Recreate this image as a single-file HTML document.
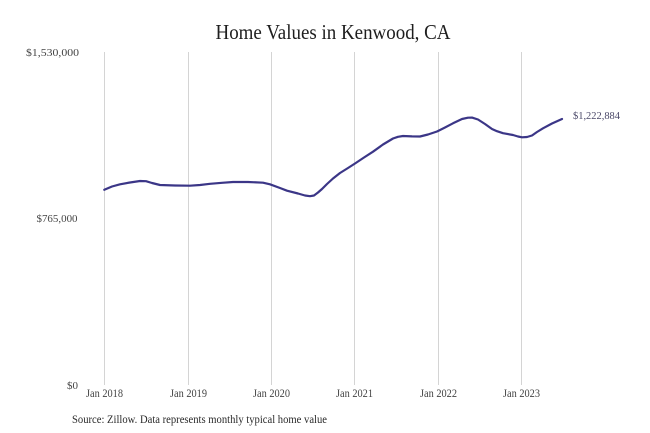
<!DOCTYPE html>
<html>
<head>
<meta charset="utf-8">
<style>
  html, body { margin: 0; padding: 0; background: #ffffff; }
  svg { display: block; }
  text { font-family: "Liberation Serif", "DejaVu Serif", serif; }
</style>
</head>
<body>
<svg width="650" height="433" viewBox="0 0 650 433" xmlns="http://www.w3.org/2000/svg">
  <rect x="0" y="0" width="650" height="433" fill="#ffffff"/>

  <!-- Title -->
  <text x="333" y="39" font-size="21" fill="#1e1e1e" text-anchor="middle" textLength="235" lengthAdjust="spacingAndGlyphs">Home Values in Kenwood, CA</text>

  <!-- Gridlines -->
  <g stroke="#d4d4d4" stroke-width="1">
    <line x1="104.5" y1="52" x2="104.5" y2="385"/>
    <line x1="188.5" y1="52" x2="188.5" y2="385"/>
    <line x1="271.5" y1="52" x2="271.5" y2="385"/>
    <line x1="354.5" y1="52" x2="354.5" y2="385"/>
    <line x1="438.5" y1="52" x2="438.5" y2="385"/>
    <line x1="521.5" y1="52" x2="521.5" y2="385"/>
  </g>

  <!-- Y axis labels -->
  <g font-size="11" fill="#444" text-anchor="end">
    <text x="79" y="56" textLength="53" lengthAdjust="spacingAndGlyphs">$1,530,000</text>
    <text x="77.5" y="222" textLength="41" lengthAdjust="spacingAndGlyphs">$765,000</text>
    <text x="78" y="389">$0</text>
  </g>

  <!-- X axis labels -->
  <g font-size="11.5" fill="#444" text-anchor="middle">
    <text x="104.5" y="397" textLength="37" lengthAdjust="spacingAndGlyphs">Jan 2018</text>
    <text x="188.5" y="397" textLength="37" lengthAdjust="spacingAndGlyphs">Jan 2019</text>
    <text x="271.5" y="397" textLength="37" lengthAdjust="spacingAndGlyphs">Jan 2020</text>
    <text x="354.5" y="397" textLength="37" lengthAdjust="spacingAndGlyphs">Jan 2021</text>
    <text x="438.5" y="397" textLength="37" lengthAdjust="spacingAndGlyphs">Jan 2022</text>
    <text x="521.5" y="397" textLength="37" lengthAdjust="spacingAndGlyphs">Jan 2023</text>
  </g>

  <!-- Series line -->
  <polyline fill="none" stroke="#3b3687" stroke-width="2.2" stroke-linejoin="round" stroke-linecap="round"
    points="104.3,189.8 112,186.5 120,184.3 130,182.5 140,181 146,181.2 152,183 160,185 175,185.5 190,185.7 200,185 210,183.8 222,182.8 233,182 248,182 263,182.7 270,184.3 280,188 287,190.7 298,193.5 305,195.5 310,196.2 314,195.5 318,192.5 322,189 327,184 333,178.5 340,173 348,168 355,163.5 364,157.5 373,151.7 383,144.5 393,138.5 398,136.8 403,136 412,136.4 420,136.5 428,134.5 437,131.5 445,127.5 453,123.3 462,119 468,117.7 472,117.6 478,119.5 485,124 492,129 497,131.2 503,133.2 513,135 518,136.5 522,137.3 527,137 532,135.5 537,132 543,128.3 552,123.5 562,119"/>

  <!-- End label -->
  <text x="573" y="119" font-size="11" fill="#4a4868" textLength="47" lengthAdjust="spacingAndGlyphs">$1,222,884</text>

  <!-- Source -->
  <text x="72" y="423" font-size="11.5" fill="#2a2a2a" textLength="255" lengthAdjust="spacingAndGlyphs">Source: Zillow. Data represents monthly typical home value</text>
</svg>
</body>
</html>
